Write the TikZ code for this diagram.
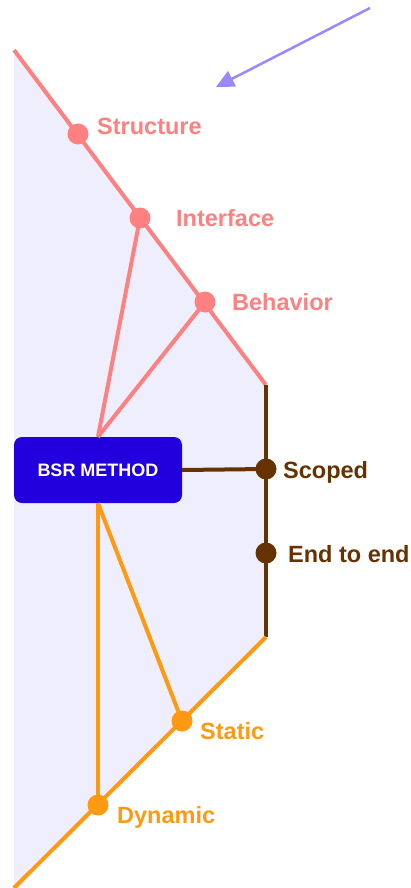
\documentclass[tikz,border=0pt]{standalone}
\usepackage{fontspec}
\setmainfont{Liberation Sans}
\usetikzlibrary{arrows.meta}
\definecolor{panelfill}{RGB}{238,238,252}
\definecolor{pinkc}{RGB}{255,128,128}
\definecolor{brownc}{RGB}{102,51,0}
\definecolor{orangec}{RGB}{255,153,17}
\definecolor{methodc}{RGB}{34,0,221}
\definecolor{arrowc}{RGB}{153,136,255}
\begin{document}
\begin{tikzpicture}[x=1pt,y=-1pt,
  edge/.style={line width=4pt},
  dot/.style={circle, inner sep=0pt, minimum size=21pt},
  lab/.style={anchor=base west, inner sep=0pt, font=\fontsize{23.5}{27}\selectfont\bfseries},
  method/.style={rectangle, rounded corners=8pt, fill=methodc, text=white,
    minimum width=168pt, minimum height=66pt, inner sep=0pt,
    font=\fontsize{18}{21}\selectfont\bfseries}]
\useasboundingbox (0,0) rectangle (410,888);

% panel corners
\coordinate (tl) at (14,50);
\coordinate (tr) at (266,385);
\coordinate (br) at (266,637);
\coordinate (bl) at (14,888);
\fill[panelfill] (tl) -- (tr) -- (br) -- (bl) -- cycle;

% axes of the panel
\draw[edge, pinkc] (tl) -- (tr);
\draw[edge, brownc] (tr) -- (br);
\draw[edge, orangec] (br) -- (bl);

% method box
\node[method] (bsr) at (98,470) {BSR METHOD};

% points on the axes
\node[dot, fill=pinkc] (structure) at (78,134) {};
\node[dot, fill=pinkc] (interface) at (140,218) {};
\node[dot, fill=pinkc] (behavior) at (205,302) {};
\node[dot, fill=brownc] (scoped) at (266,469) {};
\node[dot, fill=brownc] (endtoend) at (266,553) {};
\node[dot, fill=orangec] (static) at (182,721) {};
\node[dot, fill=orangec] (dynamic) at (98,805) {};

% connectors from the method
\draw[edge, pinkc] (bsr.north) -- (interface.center);
\draw[edge, pinkc] (bsr.north) -- (behavior.center);
\draw[edge, brownc] (bsr.east) -- (scoped.center);
\draw[edge, orangec] (bsr.south) -- (static.center);
\draw[edge, orangec] (bsr.south) -- (dynamic.center);

% labels
\node[lab, text=pinkc] (lstructure) at (97,135) {Structure};
\node[lab, text=pinkc] (linterface) at (176,226) {Interface};
\node[lab, text=pinkc] (lbehavior) at (232,310) {Behavior};
\node[lab, text=brownc] (lscoped) at (283,478) {Scoped};
\node[lab, text=brownc] (lendtoend) at (288,562) {End to end};
\node[lab, text=orangec] (lstatic) at (200,739) {Static};
\node[lab, text=orangec] (ldynamic) at (117,823) {Dynamic};

% pointer arrow
\coordinate (arrowfrom) at (370,8);
\coordinate (arrowto) at (216,87);
\draw[arrowc, line width=2.5pt, -{Triangle[length=18pt,width=17pt]}] (arrowfrom) -- (arrowto);
\end{tikzpicture}
\end{document}
